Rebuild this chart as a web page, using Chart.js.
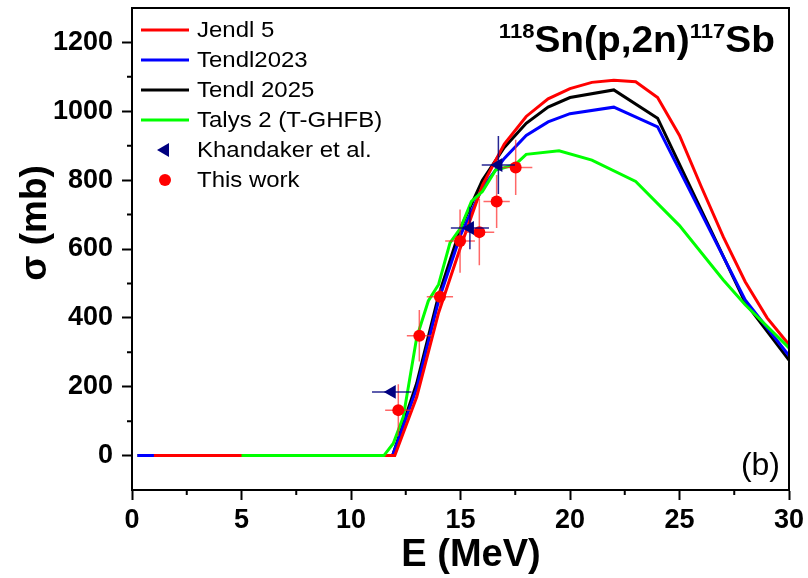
<!DOCTYPE html>
<html>
<head>
<meta charset="utf-8">
<script src="https://cdn.jsdelivr.net/npm/chart.js@4.4.1/dist/chart.umd.min.js"></script>
<style>
  html, body { margin: 0; padding: 0; background: #fff; }
  #wrap { width: 808px; height: 578px; }
</style>
</head>
<body>
<div id="wrap"><canvas id="chart" width="808" height="578"></canvas></div>
<script>
// --- tick labels ---
const xTicks = [0, 5, 10, 15, 20, 25, 30];
const yTicks = [0, 200, 400, 600, 800, 1000, 1200];
const xMinor = [2.5, 7.5, 12.5, 17.5, 22.5, 27.5];
const yMinor = [100, 300, 500, 700, 900, 1100];

// --- evaluated curves (E in MeV, sigma in mb) ---
const jendlE     = [1, 12, 13, 14, 15, 16, 17, 18, 19, 20, 21, 22, 23, 24, 25, 26, 27, 28, 29, 30];
const jendlSigma = [0, 0, 170, 415, 605, 785, 905, 985, 1036, 1066, 1084, 1090, 1086, 1040, 930, 780, 635, 505, 400, 322];

const tendl23E     = [0.25, 11.9, 13, 14, 15, 16, 17, 18, 19, 20, 22, 24, 28, 30];
const tendl23Sigma = [0, 0, 195, 450, 640, 778, 863, 930, 969, 993, 1012, 955, 452, 290];

const tendl25E     = [0.25, 11.9, 13, 14, 15, 16, 17, 18, 19, 20, 22, 24, 28, 30];
const tendl25Sigma = [0, 0, 210, 465, 660, 800, 895, 965, 1012, 1040, 1062, 980, 445, 277];

const talysE     = [5, 11.5, 11.93, 12.39, 13.0, 13.53, 14.0, 14.52, 15.0, 15.5, 16.0, 16.6, 17.5, 18.0, 19.5, 21.0, 23.0, 25.0, 27.0, 28.0, 30];
const talysSigma = [0, 0, 35, 113, 343, 449, 497, 618, 661, 738, 767, 829, 845, 875, 885, 858, 796, 668, 510, 438, 313];

// --- measurements ---
const khanE        = [11.86, 15.43, 16.73];
const khanSigma    = [185, 661, 844];
const khanErrE     = [0.9, 0.87, 0.76];
const khanErrSigma = [0, 62, 84];

const thisE        = [12.16, 13.12, 14.06, 14.98, 15.86, 16.65, 17.52];
const thisSigma    = [132, 348, 461, 623, 649, 738, 837];
const thisErrE     = [0.6, 0.57, 0.6, 0.68, 0.68, 0.6, 0.76];
const thisErrSigma = [75, 75, 25, 92, 96, 77, 80];

const FONT = 'Liberation Sans, Arial, sans-serif';
Chart.defaults.font.family = FONT;

const toXY = (xs, ys) => xs.map((x, i) => ({ x: x, y: ys[i] }));

const errorBars = {
  'Khandaker et al.': { dx: khanErrE, dy: khanErrSigma, color: 'rgba(0,0,128,0.85)' },
  'This work': { dx: thisErrE, dy: thisErrSigma, color: 'rgba(255,40,40,0.7)' }
};

// text drawn a bit wider than the font, like the original export
function wideText(ctx, str, x, y, sx) {
  ctx.save();
  ctx.translate(x, y);
  ctx.scale(sx, 1);
  ctx.fillText(str, 0, 0);
  ctx.restore();
}

const extras = {
  id: 'extras',
  beforeDatasetDraw(chart, args) {
    const ds = chart.data.datasets[args.index];
    const eb = errorBars[ds.label];
    if (!eb) return;
    const xs = chart.scales.x, ys = chart.scales.y;
    const ctx = chart.ctx;
    ctx.save();
    ctx.strokeStyle = eb.color;
    ctx.lineWidth = 1.5;
    ds.data.forEach((p, i) => {
      const px = xs.getPixelForValue(p.x), py = ys.getPixelForValue(p.y);
      ctx.beginPath();
      ctx.moveTo(xs.getPixelForValue(p.x - eb.dx[i]), py);
      ctx.lineTo(xs.getPixelForValue(p.x + eb.dx[i]), py);
      if (eb.dy[i] > 0) {
        ctx.moveTo(px, ys.getPixelForValue(p.y - eb.dy[i]));
        ctx.lineTo(px, ys.getPixelForValue(p.y + eb.dy[i]));
      }
      ctx.stroke();
    });
    ctx.restore();
  },
  afterDraw(chart) {
    const ctx = chart.ctx;
    const a = chart.chartArea;
    const xs = chart.scales.x, ys = chart.scales.y;
    ctx.save();

    // frame
    ctx.strokeStyle = '#000';
    ctx.lineWidth = 2;
    ctx.strokeRect(a.left, a.top, a.right - a.left, a.bottom - a.top);

    // minor ticks
    ctx.beginPath();
    xMinor.forEach(v => {
      const px = xs.getPixelForValue(v);
      ctx.moveTo(px, a.bottom);
      ctx.lineTo(px, a.bottom + 5);
    });
    yMinor.forEach(v => {
      const py = ys.getPixelForValue(v);
      ctx.moveTo(a.left, py);
      ctx.lineTo(a.left - 5, py);
    });
    ctx.stroke();

    // legend
    const lx = 141, ly = 30, step = 30;
    ctx.font = '22px ' + FONT;
    ctx.textBaseline = 'middle';
    ctx.textAlign = 'left';
    chart.data.datasets.forEach((ds, i) => {
      const y = ly + i * step;
      if (ds.showLine) {
        ctx.strokeStyle = ds.borderColor;
        ctx.lineWidth = 3;
        ctx.beginPath();
        ctx.moveTo(lx, y);
        ctx.lineTo(lx + 48, y);
        ctx.stroke();
      } else {
        ctx.fillStyle = ds.backgroundColor;
        ctx.beginPath();
        const r = ds.pointStyle === 'circle' ? 6 : 8;
        if (ds.pointStyle === 'circle') {
          ctx.arc(lx + 24, y, r, 0, Math.PI * 2);
        } else {
          ctx.moveTo(lx + 24 - r, y);
          ctx.lineTo(lx + 24 + r / 2, y - r * 0.866);
          ctx.lineTo(lx + 24 + r / 2, y + r * 0.866);
          ctx.closePath();
        }
        ctx.fill();
      }
      ctx.fillStyle = '#000';
      wideText(ctx, ds.label, lx + 56, y + 1, 1.09);
    });

    // reaction label
    ctx.fillStyle = '#000';
    ctx.textBaseline = 'alphabetic';
    const parts = [
      { t: '118', sup: true }, { t: 'Sn(p,2n)', sup: false },
      { t: '117', sup: true }, { t: 'Sb', sup: false }
    ];
    const bigFont = 'bold 37px ' + FONT, supFont = 'bold 21px ' + FONT;
    const sx = 1.05;
    let total = 0;
    parts.forEach(p => { ctx.font = p.sup ? supFont : bigFont; total += ctx.measureText(p.t).width * sx; });
    let cx = 775 - total;
    parts.forEach(p => {
      ctx.font = p.sup ? supFont : bigFont;
      wideText(ctx, p.t, cx, p.sup ? 38 : 52, sx);
      cx += ctx.measureText(p.t).width * sx;
    });

    // panel label
    ctx.font = '32px ' + FONT;
    ctx.textAlign = 'right';
    ctx.fillText('(b)', 780, 475);

    // axis titles
    ctx.textAlign = 'center';
    ctx.font = 'bold 38px ' + FONT;
    ctx.fillText('E (MeV)', 471, 566);
    ctx.save();
    ctx.translate(46, 223);
    ctx.rotate(-Math.PI / 2);
    ctx.font = 'bold 37px ' + FONT;
    ctx.fillText('σ (mb)', 0, 0);
    ctx.restore();

    ctx.restore();
  }
};

const lineSet = (label, xs, ys, color, order) => ({
  label: label,
  data: toXY(xs, ys),
  showLine: true,
  borderColor: color,
  backgroundColor: color,
  borderWidth: 3,
  pointRadius: 0,
  tension: 0,
  order: order
});

new Chart(document.getElementById('chart'), {
  type: 'scatter',
  data: {
    datasets: [
      lineSet('Jendl 5', jendlE, jendlSigma, '#ff0000', 3),
      lineSet('Tendl2023', tendl23E, tendl23Sigma, '#0000ff', 4),
      lineSet('Tendl 2025', tendl25E, tendl25Sigma, '#000000', 5),
      lineSet('Talys 2 (T-GHFB)', talysE, talysSigma, '#00ff00', 2),
      {
        label: 'Khandaker et al.',
        data: toXY(khanE, khanSigma),
        showLine: false,
        pointStyle: 'triangle',
        rotation: -90,
        pointRadius: 8,
        backgroundColor: '#000080',
        borderWidth: 0,
        order: 0
      },
      {
        label: 'This work',
        data: toXY(thisE, thisSigma),
        showLine: false,
        pointStyle: 'circle',
        pointRadius: 6,
        backgroundColor: '#ff0000',
        borderWidth: 0,
        order: 1
      }
    ]
  },
  options: {
    responsive: false,
    animation: false,
    layout: { padding: { top: 8, right: 19, left: 0, bottom: 0 } },
    plugins: { legend: { display: false }, tooltip: { enabled: false } },
    scales: {
      x: {
        type: 'linear',
        min: 0,
        max: 30,
        afterBuildTicks: s => { s.ticks = xTicks.map(v => ({ value: v })); },
        afterFit: s => { s.height = 88; s.paddingLeft = 0; s.paddingRight = 0; },
        grid: { drawOnChartArea: false, drawTicks: true, tickLength: 10, tickWidth: 2, tickColor: '#000' },
        border: { display: true, color: '#000', width: 2 },
        ticks: { color: '#000', padding: 4, maxRotation: 0, font: { size: 27, weight: 'bold' },
                 callback: v => String(v) }
      },
      y: {
        type: 'linear',
        min: -100,
        max: 1300,
        afterBuildTicks: s => { s.ticks = yTicks.map(v => ({ value: v })); },
        afterFit: s => { s.width = 132; s.paddingTop = 0; s.paddingBottom = 0; },
        grid: { drawOnChartArea: false, drawTicks: true, tickLength: 10, tickWidth: 2, tickColor: '#000' },
        border: { display: true, color: '#000', width: 2 },
        ticks: { color: '#000', padding: 9, font: { size: 27, weight: 'bold' },
                 callback: v => String(v) }
      }
    }
  },
  plugins: [extras]
});
</script>
</body>
</html>
